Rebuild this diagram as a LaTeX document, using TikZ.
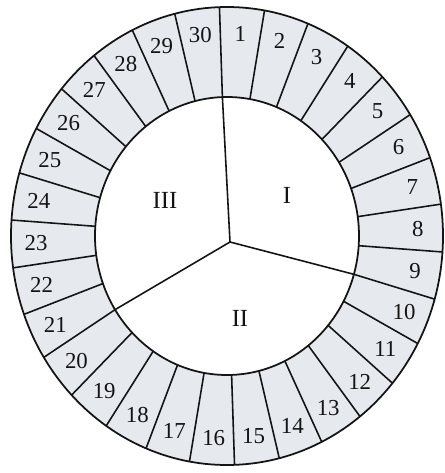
\documentclass[tikz,border=0pt]{standalone}
\usepackage{fontspec}
\setmainfont{Liberation Serif}
\definecolor{ringfill}{HTML}{E6E9EE}
\definecolor{inkline}{HTML}{141414}

\begin{document}
\begin{tikzpicture}[
    rim/.style={draw=inkline, line width=1pt},
    spoke/.style={draw=inkline, line width=0.9pt},
    seclabel/.style={font=\fontsize{13}{15}\selectfont, text=inkline, inner sep=0pt},
    zonelabel/.style={font=\fontsize{14}{16}\selectfont, text=inkline, inner sep=0pt}
]
    \useasboundingbox (-4.54,-4.74) rectangle (4.34,4.72);
    \def\rxo{4.32} \def\ryo{4.58}
    \def\rxi{2.64} \def\ryi{2.78}
    \def\rxl{3.82} \def\ryl{4.05}

    % shaded ring
    \fill[ringfill, even odd rule] (0,0) ellipse [x radius=\rxo, y radius=\ryo]
        (0,0) ellipse [x radius=\rxi, y radius=\ryi];
    \draw[rim] (0,0) ellipse [x radius=\rxo, y radius=\ryo];
    \draw[rim] (0,0) ellipse [x radius=\rxi, y radius=\ryi];

    % 30 cells
    \foreach \k in {1,...,30} {
        \pgfmathsetmacro\edge{92-12*\k}
        \pgfmathsetmacro\mid{98-12*\k}
        \draw[spoke] ({\rxi*cos(\edge)},{\ryi*sin(\edge)}) -- ({\rxo*cos(\edge)},{\ryo*sin(\edge)});
        \node[seclabel] (cell\k) at ({\rxl*cos(\mid)},{\ryl*sin(\mid)}) {\k};
    }

    % three zones
    \coordinate (hub) at (0.06,-0.12);
    \coordinate (edgeI) at ({\rxi*cos(92)},{\ryi*sin(92)});
    \coordinate (edgeII) at ({\rxi*cos(-16)},{\ryi*sin(-16)});
    \coordinate (edgeIII) at ({\rxi*cos(212)},{\ryi*sin(212)});
    \draw[spoke] (hub) -- (edgeI);
    \draw[spoke] (hub) -- (edgeII);
    \draw[spoke] (hub) -- (edgeIII);

    \node[zonelabel] (zoneI) at (1.2,0.82) {I};
    \node[zonelabel] (zoneII) at (0.26,-1.64) {II};
    \node[zonelabel] (zoneIII) at (-1.24,0.72) {III};
\end{tikzpicture}
\end{document}
